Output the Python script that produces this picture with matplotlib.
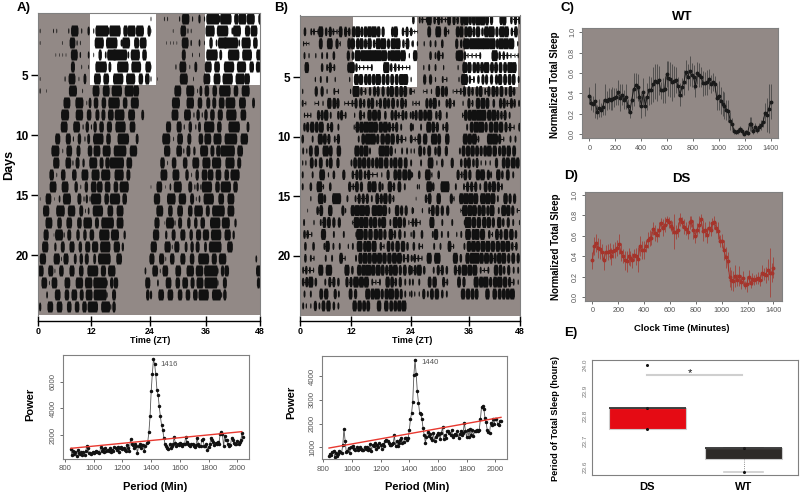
import numpy as np
import matplotlib
matplotlib.use('Agg')
import matplotlib.pyplot as plt
from matplotlib.collections import PolyCollection

plt.rcParams['font.family'] = ['Liberation Sans', 'DejaVu Sans']

W, H = 800, 494
PANEL_GREY = '#928986'
FRAME_GREY = '#808080'
TICK_GREY = '#555555'
INK = '#111111'

# sleep bouts per day, (centre ZT, width in hours); double plotted, so row k shows day k and day k+1
a_days = [
    [],
    [(0.4, .15), (3.3, .15), (4, .15), (6.6, .2), (7.9, 1.3), (9.4, .2), (10.9, .4), (12, .2), (13.8, 2.3), (15.2, .3), (16.6, 2), (18.9, .8), (20.2, 1.4), (22, 1.4), (24, .6)],
    [(0.4, .12), (5.2, .12), (7.4, 1), (8.4, .2), (9.1, .15), (13.2, 1.6), (15.9, 2), (18, .3), (19, 1.4), (21.3, .9), (22.7, 1.2)],
    [(3.8, .1), (4.6, .1), (5.3, .1), (6, .1), (7.8, 1.2), (9.1, .25), (10.9, .3), (12, .15), (13.4, .6), (14.6, .3), (15.9, 1.6), (17.7, 2.5), (19.5, .3), (21, 1.6), (23, .8)],
    [(7.5, .7), (9.4, .15), (10.9, .15), (13.6, 2), (15.5, .5), (18.3, 2), (21.2, 1.7), (23.8, 1)],
    [(0.4, .12), (5.8, .2), (7.3, 1.2), (8.8, .15), (10.1, .5), (12.8, 1.2), (14.7, 1), (17.3, 1.8), (20, 1.6), (22.2, .8), (23.6, .8)],
    [(0.4, .2), (1.8, .1), (6.9, .12), (7.5, 1.4), (9.6, .15), (12.5, 1.2), (14.7, 1.2), (17, 1.8), (19.7, 1.6), (21.2, 1)],
    [(6.2, 1.2), (8.9, 1.4), (10.5, .15), (11.2, .5), (12.5, .8), (14.2, .8), (16.4, 2), (18.8, .8), (20.9, 1.4)],
    [(5.8, 1.4), (8.9, 1.3), (11, .8), (12.8, .7), (14.1, .7), (15.7, 1), (17.6, 1.7), (20.2, 1.2), (22.6, .5)],
    [(5.6, 1.2), (8.3, 1.2), (9.7, .2), (10.6, .6), (11.5, .2), (12.3, .6), (13.7, .8), (15.4, .9), (17.8, 1.8), (20.4, 1)],
    [(4.2, .9), (6.5, .9), (7.6, .2), (8.9, .6), (10.1, .2), (10.9, .5), (12, .2), (13, 1.8), (15.2, .8), (18.4, 2), (21.4, .5)],
    [(3.7, 1.4), (5.3, .15), (6.7, 1), (8.7, .7), (11.2, .8), (12.7, 1.2), (14.8, 1.4), (17.7, 2.2), (20.6, 1.3)],
    [(3.9, 1.1), (6.5, 1), (7.5, .2), (8.5, .7), (9.8, .4), (11.9, 1.4), (13.7, .7), (15, .8), (17, 2.5), (19.7, 1)],
    [(2.9, .8), (4, .15), (5.4, .8), (7.8, .8), (10.1, 1.2), (12.4, 1.4), (14.6, 1.6), (17.5, 1.6), (19.5, .7)],
    [(3.2, 1.2), (5.8, 1.2), (8.2, .6), (9.2, .15), (10.4, .6), (12, 1), (13.3, 1), (15, 1), (16.8, .8), (18.6, 1.6)],
    [(0.4, .1), (2.2, 1), (3.5, .1), (4.6, .3), (6.2, 1.4), (8.9, .7), (9.9, .2), (10.5, .4), (11.2, .2), (12.5, 1.8), (14.8, .8), (16.6, 1.8), (18.7, .8)],
    [(1.7, 1.1), (4.8, 1.5), (7.2, 1.3), (9.3, .7), (10.2, .15), (10.9, .3), (12.9, 1.8), (15.6, 1), (17.7, 1.2)],
    [(2.3, 1.2), (4.6, .8), (6.7, 1), (8.9, .8), (10.7, 1.5), (12.7, .7), (15, 2.2), (17.7, 1.2)],
    [(1.7, .9), (3.4, .1), (4.5, 1.4), (5.6, .2), (6.7, .7), (8.6, .6), (10.1, .6), (11.6, .8), (14.3, 1.8), (16.6, 1.4), (18.7, .4)],
    [(1.5, 1.1), (3.7, .4), (5.3, .7), (7.3, .9), (9.1, .6), (10.7, .9), (12.3, 1.1), (14.5, 1.8), (17, 1.1), (18.3, .4)],
    [(1, 1.1), (4, 1.1), (5, .15), (6, .9), (8, .5), (9.3, .6), (10.5, .7), (12.2, .5), (14.3, 2.2), (17.5, 1)],
    [(.6, .9), (2.7, .9), (3.6, .15), (5, .8), (7.3, .9), (9.3, .8), (11.8, 1.9), (14.1, .9), (15.9, 1.3), (23.2, .3)],
    [(1.3, 1), (2.4, .15), (3.5, 1), (6.3, 1), (8.9, 1.3), (10.9, 1.3), (13.4, 2.4), (14.9, .2), (15.9, .6), (16.8, .8), (23.7, .9)],
    [(1.9, .3), (4.2, 1), (6.2, .8), (7.8, 1), (9.4, .7), (11, 1.2), (13.4, 2.3), (14.9, .2), (16.4, .7), (23.7, .6)],
    [(.4, .4), (2.6, 1), (4.6, 1), (6.7, .8), (8.4, .8), (10, .8), (11.8, 1.8), (14.6, 1.6), (15.7, .2), (16.4, .6)],
    [],
]

b_days = [
    [],
    [(.9, .4), (2.3, .3), (2.9, .3), (3.8, .2), (4.4, .8), (5.6, .4), (6.5, .5), (7.2, .3), (8, .2), (8.8, .6), (9.9, .5), (10.7, .4), (11.7, .6), (12.6, .8), (13.5, .5), (14.3, .6), (15.2, .8), (16.2, .9), (17.2, .6), (18.2, .5), (20.3, .5), (21, .7), (22.6, .4), (23.5, .5), (24.4, .4)],
    [(.6, .2), (1.2, .15), (1.8, .1), (4.4, .6), (6.4, .9), (8, .5), (8.7, .2), (10.7, .6), (11.5, .7), (12.6, .6), (13.4, .7), (14.3, .5), (15.2, .7), (16.2, .4), (17.1, .8), (18.2, 1), (19.4, .5), (20.5, .9), (21.5, .8), (22.7, .4), (23.6, .6), (24.6, .2)],
    [(.8, .3), (1.8, .2), (3.3, .2), (4.7, .3), (5.8, .3), (7.3, .4), (10.5, .5), (11.5, .4), (12.6, 1), (13.8, .9), (14.8, 1), (15.9, 1.1), (17.1, 1.2), (18.4, 1), (19.5, .5), (20.3, .9), (21.4, 1), (22.6, .9), (24, .2), (25.1, .15)],
    [(1.3, .7), (4.7, .4), (5.8, .3), (6.5, .5), (7.4, .3), (10.6, .5), (11.3, .9), (12.3, .4), (13, .2), (13.9, .2), (14.8, .2), (15.7, .3), (18.9, 1), (20, .4), (20.9, .4), (21.7, .3), (22.5, .2), (23.4, .15), (24.1, .2)],
    [(3.2, .2), (4.4, .3), (5.8, .3), (7.6, .2), (10.8, .2), (12.3, .8), (13.3, .7), (14.4, .6), (15.2, .6), (16.1, .6), (17.1, .9), (18.3, .6), (19.2, .6), (20.2, .6), (21.2, .6), (22.3, .9), (23.2, .8)],
    [(.4, .2), (3.4, .5), (4.7, .5), (5.8, .2), (7.4, .3), (8.3, .2), (11, .2), (12.2, 1.1), (13.4, .4), (14.3, .3), (15.3, .4), (16.3, .5), (17.1, .5), (18.2, .5), (19.3, .5), (20.1, .7), (21.2, .6), (22.2, .6), (23.1, .6), (24.2, .3)],
    [(.4, .3), (1.1, .15), (3.1, .12), (3.9, .2), (4.9, .2), (6.3, .7), (7.4, .6), (8.2, .5), (9.7, .15), (10.5, .2), (11.4, .3), (12.2, .5), (13.2, .5), (14, .4), (15, .5), (15.8, .6), (16.8, .3), (17.6, .5), (18.6, .6), (19.4, .5), (20.4, .6), (21.4, .4), (22.4, .6), (23.2, .4)],
    [(.8, .2), (1.5, .2), (2.2, .2), (3.9, .5), (4.7, .5), (5.6, .7), (6.6, .3), (8.3, .4), (9, .5), (9.9, .3), (11.9, .2), (13.2, .5), (14, .3), (15.2, .7), (16.3, .8), (17.3, .6), (18.7, .4), (20.2, .5), (21, .5), (21.7, .3), (22.6, .5), (23.3, .4), (24.3, .3)],
    [(.8, .4), (1.5, .5), (2.5, .7), (3.5, .6), (4.5, .8), (6, .4), (6.8, .5), (8.3, .3), (11.8, .2), (12.5, .6), (13.4, .7), (14.4, .9), (15.5, 1), (16.5, .8), (17.7, .7), (18.7, .8), (19.6, .5), (20.4, .4), (21.2, .5), (22.2, .3), (24.8, .3)],
    [(.4, .4), (2.6, .3), (4.3, .8), (5.3, .6), (6.2, .5), (7.5, .3), (8.3, .5), (12.8, .3), (13.8, .6), (14.8, .9), (15.9, 1), (17, .5), (18.1, .7), (19.2, .8), (20.3, .7), (21.4, .5), (22.3, .4), (23.2, .2), (24.4, .4)],
    [(.5, .3), (1.3, .2), (2.2, .6), (3.5, .7), (5.5, 1), (6.6, .6), (8.4, .7), (12.4, .8), (13.4, .7), (14.4, .8), (15.3, .3), (17.9, 1), (19, .9), (20, .5), (20.9, .2), (22.4, .3), (23.5, .3)],
    [(.4, .2), (1.1, .2), (2.4, .6), (3.3, .4), (4.4, .6), (5.8, .4), (6.6, .6), (8.2, .5), (11.2, .3), (12, .6), (13, .7), (14, .7), (15, .6), (15.9, .5), (16.8, .6), (17.7, .8), (18.9, .7), (20, .5), (20.9, .7), (22, .7), (23.2, .6)],
    [(.4, .3), (2.6, .3), (4.7, .9), (6.1, .2), (7.3, .4), (9.5, .5), (11.5, .4), (12.4, .5), (13.2, .6), (14.2, .4), (15, .5), (15.9, .2), (16.9, .2), (17.9, .2), (19.3, .5), (20.9, .6), (21.8, .7), (23, .8), (24, .6), (24.7, .2)],
    [(.4, .3), (2.2, .4), (4.1, .9), (5, .2), (6.5, .4), (10.8, .5), (11.6, .3), (12.4, .6), (13.4, .5), (15.2, .7), (16.2, .8), (17.5, .5), (18.1, .3), (19.7, .7), (20.6, .4), (21.8, .6), (23, .3), (25.8, .2)],
    [(2.2, .2), (4.4, .9), (5.3, .4), (7.9, 1.4), (10.3, .3), (12.1, .3), (12.9, .5), (13.8, .5), (14.7, .5), (15.7, .3), (16.9, .6), (17.8, .5), (18.7, .7), (19.7, .5), (20.5, .3)],
    [(1.5, .12), (3.7, .4), (4.5, .6), (6.5, .7), (9.3, .5), (9.9, .2), (11.5, .7), (12.5, .9), (13.6, .9), (14.7, .8), (16.3, .9), (17.4, .9), (18.5, .8), (19.6, .3), (21.3, .7), (22.3, .5), (23.3, .5), (24.9, .2)],
    [(.7, .3), (2.9, .2), (4.4, .3), (5.2, .6), (6.2, .6), (7.3, .5), (8.5, .5), (11.4, .15), (12.3, .9), (13.4, .8), (14.4, .8), (15.5, .6), (16.4, .7), (17.4, .5), (18.3, .8), (19.8, .3), (20.9, .8), (21.9, .7), (22.9, .5), (23.9, .2), (24.7, .2)],
    [(.8, .4), (1.5, .4), (2.4, .2), (5, .8), (7.3, .3), (9.5, .3), (12.2, .2), (13, 1.1), (14.3, .7), (15.4, .7), (16.6, .7), (17.6, .7), (18.6, .5), (19.9, .7), (20.8, .4), (21.9, .5), (23, .3), (24.4, .2)],
    [(1, .4), (2.8, .4), (5.2, .3), (5.9, .7), (7.2, .3), (8.6, .3), (10.5, .2), (11.5, .3), (13, .9), (14.2, .6), (15, .8), (16.2, .8), (17.7, .4), (18.4, .2), (19.4, .6), (20.3, .5), (21.4, .7), (22.6, .7), (23.6, .4)],
    [(1, .4), (2.2, .3), (2.9, .2), (5.5, .3), (6.9, .3), (8.9, .6), (9.8, .2), (12.2, .3), (13.2, .7), (14.2, .8), (15.2, .7), (16.3, .8), (17.4, .8), (18.5, .7), (19.6, .7), (20.7, .8), (21.8, .8), (22.8, .4), (23.7, .4), (24.8, .2)],
    [(.5, .3), (1.2, .4), (2, .3), (2.8, .2), (4.4, .8), (6.2, 1), (10.2, .8), (11.4, .4), (12.9, .7), (13.9, .8), (14.9, 1), (16, .7), (17.1, .8), (18.1, .6), (19, .5), (19.9, .7), (20.9, .8), (22, .5), (23, .6), (24.1, .5)],
    [(.5, .4), (1.3, .5), (2.2, .8), (3.3, .4), (5.4, .3), (6.4, .5), (7.3, .5), (8.3, .4), (10.2, .5), (11.1, .5), (12.2, .9), (13.4, .8), (14.5, .8), (15.8, .3), (16.6, .2), (17.5, .3), (19.2, .7), (20.2, .6), (21, .4), (22, .5), (23.1, .3), (24.1, .3)],
    [(.8, .3), (2.2, .3), (4.5, .6), (5.6, .7), (7.6, .5), (8.4, .3), (11, .6), (12.1, .5), (14.8, .8), (15.9, .7), (16.9, .9), (18, .5), (19, .7), (20, .9), (21.2, .7), (22.2, .5), (23.1, .3), (24.1, .2)],
    [(.5, .3), (1.2, .2), (2.2, .2), (3.2, .5), (4.1, .3), (5, .6), (6.1, .7), (7.3, .4), (8.3, .3), (11.9, .7), (13, .7), (14, .6), (14.9, .6), (17.3, .7), (18.9, .7), (20, .6), (20.9, .6), (21.8, .7), (22.8, .8)],
    [],
]

# light phase of the first six days, ZT spans
a_light = [(11.2, 25.4), (36.2, 48)]
b_light = [(11.5, 25.6), (36.4, 48)]

zt_labels = ['0', '12', '24', '36', '48']
a_zt_ticks = [0, 11.5, 24.2, 36.3, 48]
b_zt_ticks = [-.2, 11.2, 24.3, 37.1, 48.5]
day_ticks = [5, 10, 15, 20]

period_start, period_step = 840, 8
a_power = [
    950, 520, 780, 610, 760, 430, 850, 640, 560, 700,
    480, 720, 520, 800, 1180, 1050, 640, 680, 600, 700,
    650, 720, 780, 700, 760, 620, 1080, 820, 950, 760,
    1050, 830, 900, 780, 1020, 740, 880, 830, 1100, 1060,
    850, 1130, 740, 1050, 1120, 980, 1060, 900, 820, 1240,
    1060, 800, 1700, 1300, 1260, 1050, 1350, 1200, 650, 1180,
    1350, 1000, 1220, 1280, 800, 1200, 1380, 1500, 2200, 3400,
    5300, 6600, 7700, 7300, 6550, 5400, 5000, 4150, 3400, 2750,
    2400, 1800, 1300, 1150, 1050, 950, 1300, 1050, 1200, 1300,
    1850, 1400, 1150, 1350, 1250, 1400, 1300, 1150, 1350, 1300,
    1850, 1500, 1300, 1250, 1200, 1350, 1300, 1150, 1100, 1250,
    1780, 1300, 1200, 1150, 1600, 1700, 1200, 1150, 1350, 850,
    1100, 1300, 1800, 1650, 1450, 1250, 1400, 1300, 1500, 1350,
    2100, 2200, 2100, 1150, 1950, 1600, 1650, 1300, 1200, 1250,
    1800, 1650, 1400, 1300, 1350, 1550, 1350, 1450, 1600, 2150,
    1850,
]
b_power = [
    620, 700, 680, 820, 860, 600, 780, 650, 720, 850,
    800, 780, 1100, 1770, 1280, 820, 850, 980, 760, 1000,
    1030, 1050, 950, 900, 1000, 880, 950, 1000, 950, 900,
    880, 1000, 920, 1000, 900, 950, 1150, 860, 1100, 1050,
    1180, 950, 1100, 1000, 1180, 1100, 950, 1150, 1050, 1280,
    1300, 1250, 1180, 1100, 1080, 1120, 1180, 1500, 1050, 1280,
    1050, 1200, 1300, 1400, 1200, 1220, 1390, 1380, 1300, 1380,
    1720, 2180, 2430, 2910, 4030, 4670, 4080, 3360, 2880, 2450,
    2380, 2200, 1800, 1520, 1200, 1420, 1660, 1480, 1550, 1380,
    1320, 1600, 1280, 1450, 1500, 1600, 1550, 1350, 1620, 1840,
    1350, 1500, 1400, 1680, 1700, 1600, 1500, 1720, 1430, 1500,
    1580, 1500, 1680, 1380, 1560, 1700, 1520, 1620, 2030, 1700,
    1420, 1720, 1450, 1760, 1500, 1740, 1480, 1700, 1700, 1720,
    1700, 1720, 2170, 2680, 2720, 2620, 2250, 2060, 1720, 1650,
    1600, 2030, 1950, 2200, 1980, 2210, 2180, 2000, 1950, 2090,
    2100,
]
a_sig_period = [840, 2030]
a_sig_power = [1000, 2250]
b_sig_period = [840, 2040]
b_sig_power = [970, 2260]

clock_step = 15
wt_sleep = [.38, .31, .30, .33, .22, .26, .24, .27, .34, .33, .35, .34, .35, .36, .37, .41, .36, .39, .34, .37,
            .28, .22, .34, .44, .48, .46, .37, .28, .41, .28, .37, .43, .43, .49, .52, .51, .53, .43, .43, .44,
            .59, .55, .54, .51, .52, .53, .47, .39, .46, .51, .61, .56, .62, .58, .56, .47, .60, .58, .56, .50,
            .50, .51, .54, .49, .51, .49, .36, .38, .33, .30, .28, .24, .23, .13, .10, .03, .02, .03, .05, .03,
            .00, .02, .01, .10, .10, .03, .07, .04, .07, .09, .12, .21, .19, .25, .32]
wt_err = [.08, .07, .08, .17, .07, .09, .07, .08, .15, .09, .10, .10, .11, .09, .08, .12, .13, .10, .09, .12,
          .07, .06, .10, .16, .12, .13, .09, .12, .14, .10, .13, .14, .13, .17, .17, .18, .14, .08, .12, .13,
          .13, .17, .17, .18, .15, .13, .09, .11, .09, .12, .12, .13, .15, .12, .12, .10, .11, .12, .10, .12,
          .11, .12, .10, .09, .09, .08, .12, .14, .13, .12, .13, .10, .11, .09, .06, .03, .02, .03, .03, .03,
          .01, .02, .02, .07, .07, .03, .04, .03, .04, .05, .05, .10, .17, .24, .17]
ds_sleep = [.36, .50, .53, .48, .47, .44, .36, .44, .44, .45, .40, .45, .46, .48, .52, .44, .40, .36, .35, .40,
            .38, .36, .41, .40, .37, .50, .46, .46, .50, .56, .58, .58, .67, .63, .61, .66, .72, .68, .71, .75,
            .73, .70, .68, .64, .64, .66, .76, .73, .69, .67, .64, .73, .74, .66, .60, .66, .71, .76, .65, .66,
            .61, .68, .66, .72, .73, .68, .65, .55, .55, .46, .39, .35, .20, .17, .16, .21, .17, .21, .15, .19,
            .12, .13, .20, .14, .18, .17, .18, .19, .17, .24, .23, .22, .27, .24, .24, .29]
ds_err = [.08, .09, .09, .10, .10, .08, .09, .07, .08, .08, .08, .07, .08, .08, .10, .09, .07, .09, .10, .08,
          .07, .07, .06, .08, .12, .10, .09, .09, .06, .08, .08, .07, .06, .08, .07, .07, .05, .08, .07, .04,
          .05, .05, .06, .17, .07, .07, .06, .05, .07, .06, .07, .06, .05, .09, .07, .06, .08, .05, .10, .07,
          .08, .06, .06, .05, .06, .05, .08, .06, .07, .10, .10, .09, .10, .10, .10, .11, .06, .10, .07, .07,
          .04, .08, .07, .05, .06, .05, .05, .06, .06, .08, .06, .08, .10, .24, .09, .10]

box_labels = ['DS', 'WT']
ds_periods = [23.75, 23.75, 23.83, 23.83, 24.0]
wt_periods = [23.58, 23.63, 23.675, 23.675, 23.675]


def axes_px(fig, left, top, right, bottom):
    return fig.add_axes([left / W, 1 - bottom / H, (right - left) / W, (bottom - top) / H])


def label_px(fig, x, y, s, size=9, weight='bold', rotation=0, color='black'):
    fig.text(x / W, 1 - y / H, s, fontsize=size, fontweight=weight, rotation=rotation,
             color=color, ha='center', va='center')


def actogram(ax, days, light, zt_ticks, offset, widen, bridge):
    ax.set_xlim(0, 48)
    ax.set_ylim(25, -0.17)
    ax.set_facecolor(PANEL_GREY)
    for start, end in light:
        ax.axvspan(start, end, ymin=1 - 6.0 / 25.17, ymax=1, color='white', lw=0, zorder=1)
    verts = []
    for row in range(25):
        y = row + offset
        for shift, day in ((0, days[row]), (24, days[row + 1])):
            for n, (centre, width) in enumerate(day):
                w = width * widen
                h = min(0.46, 0.08 + 0.7 * width)
                x0, x1 = centre + shift - w / 2, centre + shift + w / 2
                dx = min(0.25 * w, 0.18)
                verts.append([(x0, y - h * .45), (x0 + dx, y - h), (x1 - dx, y - h), (x1, y - h * .45),
                              (x1, y + h * .45), (x1 - dx, y + h), (x0 + dx, y + h), (x0, y + h * .45)])
                # the faint activity trace between two close bouts
                if n + 1 < len(day) and day[n + 1][0] - centre < bridge:
                    x2 = day[n + 1][0] + shift
                    verts.append([(x1, y - .035), (x2, y - .035), (x2, y + .035), (x1, y + .035)])
    ax.add_collection(PolyCollection(verts, facecolors=INK, edgecolors='none', zorder=2))
    for side in ('top', 'right', 'left'):
        ax.spines[side].set_color(FRAME_GREY)
        ax.spines[side].set_linewidth(0.8)
    ax.spines['bottom'].set_position(('outward', 4))
    ax.spines['bottom'].set_linewidth(1.0)
    ax.set_xticks(zt_ticks, zt_labels, fontsize=6.4, fontweight='bold')
    ax.tick_params(axis='x', direction='inout', length=7, width=1, pad=1)
    ax.set_yticks(day_ticks, [str(d) for d in day_ticks], fontsize=8.5, fontweight='bold')
    ax.tick_params(axis='y', length=5, width=1, pad=2)


def periodogram(ax, power, sig_x, sig_y, xlim, ylim, yticks, peak_xy, peak_text):
    periods = period_start + np.arange(len(power)) * period_step
    ax.plot(periods, power, color='#555555', lw=0.6, marker='o', ms=1.5, mfc=INK, mec=INK, zorder=2)
    ax.plot(sig_x, sig_y, color='#e8382f', lw=1.0, zorder=3)
    ax.set_xlim(*xlim)
    ax.set_ylim(*ylim)
    ax.set_xticks(range(800, 2001, 200))
    ax.set_yticks(yticks)
    ax.tick_params(labelsize=5.6, length=2.5, width=0.6, colors=TICK_GREY, pad=2)
    ax.tick_params(axis='y', labelrotation=90)
    for t in ax.get_yticklabels():
        t.set_va('center')
    for s in ax.spines.values():
        s.set_color(FRAME_GREY)
    ax.text(peak_xy[0], peak_xy[1], peak_text, fontsize=5.6, color=TICK_GREY, ha='center', va='center')


def sleep_profile(ax, values, errs, color, err_color, xlim, ylim):
    t = np.arange(len(values)) * clock_step * 1400 / (clock_step * (len(values) - 1))
    ax.set_facecolor(PANEL_GREY)
    ax.errorbar(t, values, yerr=errs, color=color, lw=0.7, ecolor=err_color, elinewidth=0.5,
                marker='o', ms=1.8, capsize=0)
    ax.set_xlim(*xlim)
    ax.set_ylim(*ylim)
    ax.set_xticks(range(0, 1401, 200))
    ax.set_yticks([0, .2, .4, .6, .8, 1.0])
    ax.tick_params(labelsize=5.2, length=2.5, width=0.6, colors=TICK_GREY, pad=2)
    ax.tick_params(axis='y', labelrotation=90)
    for tl in ax.get_yticklabels():
        tl.set_va('center')
    for s in ax.spines.values():
        s.set_color(FRAME_GREY)


fig = plt.figure(figsize=(8, 4.94), dpi=100)

ax = axes_px(fig, 38.3, 13, 260, 315)
actogram(ax, a_days, a_light, a_zt_ticks, 0.33, 1.25, 0.0)
ax = axes_px(fig, 300, 15.5, 520, 315.5)
actogram(ax, b_days, b_light, b_zt_ticks, 0.2, 1.45, 1.0)

ax = axes_px(fig, 63, 355, 249, 459)
periodogram(ax, a_power, a_sig_period, a_sig_power, (786, 2081), (200, 8000), [2000, 4000, 6000], (1525, 7325), '1416')
ax = axes_px(fig, 322.3, 356, 507.3, 459.3)
periodogram(ax, b_power, b_sig_period, b_sig_power, (793, 2084), (496, 4840), [1000, 2000, 3000, 4000], (1545, 4555), '1440')

ax = axes_px(fig, 582.3, 28.3, 778.3, 138.3)
sleep_profile(ax, wt_sleep, wt_err, '#1a1a1a', '#3a3a3a', (-54, 1458), (-.04, 1.04))
ax = axes_px(fig, 585, 191.7, 781.7, 300.7)
sleep_profile(ax, ds_sleep, ds_err, '#a5342b', '#a5342b', (-57, 1464), (-.033, 1.03))

ax = axes_px(fig, 591.7, 360, 798.3, 475)
bp = ax.boxplot([ds_periods, wt_periods], positions=[1, 2], widths=0.8, patch_artist=True,
                flierprops=dict(marker='o', ms=1.2, mfc=INK, mec=INK),
                medianprops=dict(color='#222222', lw=1.2),
                whiskerprops=dict(color='#666666', lw=0.6, ls=':'),
                capprops=dict(color='#cccccc', lw=1.2), capwidths=0.4)
bp['boxes'][0].set(facecolor='#e50b14', edgecolor='#cccccc', lw=0.8)
bp['boxes'][1].set(facecolor='#2e2b28', edgecolor='#cccccc', lw=0.8)
bp['caps'][0].set_visible(False)
bp['caps'][1].set_visible(False)
ax.plot([1, 1, 2, 2], [23.83, 23.75, 23.675, 23.58], ls='none', marker='o', ms=1.2, color=INK)
ax.plot([1, 1.98], [23.96, 23.96], color='#cfcfcf', lw=1.5)
ax.text(1.44, 23.97, '*', fontsize=8, ha='center', va='center', color=INK)
ax.set_xlim(.42, 2.57)
ax.set_ylim(23.567, 24.02)
ax.set_xticks([1, 2], box_labels, fontsize=8, fontweight='bold')
ax.set_yticks([23.6, 23.7, 23.8, 23.9, 24.0], ['23.6', '23.7', '23.8', '23.9', '24.0'])
ax.tick_params(axis='y', labelsize=4.6, length=0, colors='#777777', labelrotation=90, pad=3)
ax.tick_params(axis='x', length=0, pad=5)
for t in ax.get_yticklabels():
    t.set_va('center')
for s in ax.spines.values():
    s.set_color(FRAME_GREY)

label_px(fig, 24, 8, 'A)', 9.5)
label_px(fig, 281, 8, 'B)', 9.5)
label_px(fig, 567, 8, 'C)', 9.5)
label_px(fig, 571, 176, 'D)', 9.5)
label_px(fig, 571, 333, 'E)', 9.5)
label_px(fig, 9, 165, 'Days', 9, rotation=90)
label_px(fig, 150, 340.5, 'Time (ZT)', 6.4)
label_px(fig, 412, 340.5, 'Time (ZT)', 6.4)
label_px(fig, 30, 404, 'Power', 8, rotation=90)
label_px(fig, 291, 402, 'Power', 8, rotation=90)
label_px(fig, 155, 487, 'Period (Min)', 8)
label_px(fig, 417, 487, 'Period (Min)', 8)
label_px(fig, 682, 17, 'WT', 9.5)
label_px(fig, 681, 179, 'DS', 9.5)
label_px(fig, 555, 85, 'Normalized Total Sleep', 7, rotation=90)
label_px(fig, 556, 247, 'Normalized Total Sleep', 7, rotation=90)
label_px(fig, 682, 328, 'Clock Time (Minutes)', 6.8)
label_px(fig, 556, 418, 'Period of Total Sleep (hours)', 6.6, rotation=90)

fig.savefig('out.png', dpi=100)
